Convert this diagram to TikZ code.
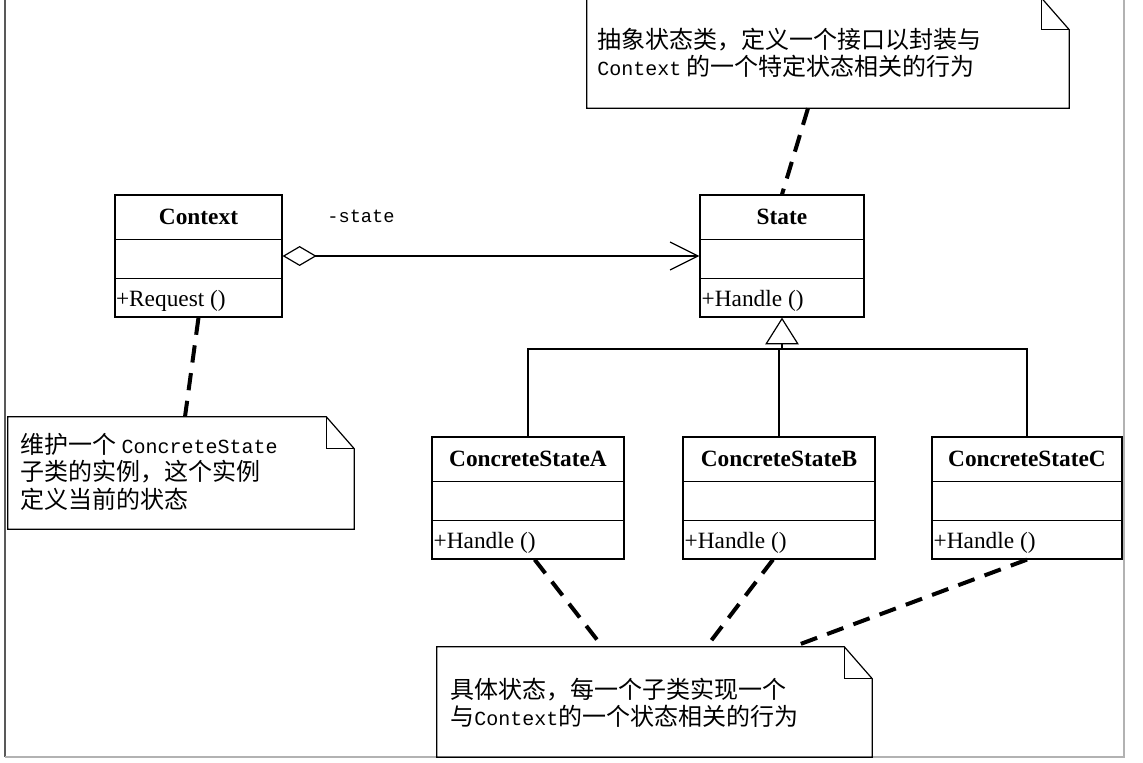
\documentclass[tikz,border=0pt]{standalone}
\usepackage{fontspec}
\setmainfont{Liberation Serif}
\newfontfamily\cjk{Noto Sans CJK SC}
\newfontfamily\mono{Liberation Mono}
\usetikzlibrary{arrows.meta,calc}
\newcommand{\lat}[1]{{\mono\fontsize{15pt}{20.5pt}\selectfont #1}}
% dog-eared outline round a note node
\newcommand{\notefold}[1]{%
  \draw[umlline] (#1.north west) -- ([xshift=-21pt]#1.north east)
    -- ([yshift=-24pt]#1.north east) -- (#1.south east) -- (#1.south west) -- cycle;
  \draw[umlline] ([xshift=-21pt]#1.north east) -- ([xshift=-21pt,yshift=-24pt]#1.north east)
    -- ([yshift=-24pt]#1.north east);
}
\tikzset{
  umlline/.style={line width=0.9pt},
  classbox/.style={draw, line width=0.9pt, minimum height=91.5pt, inner sep=0pt},
  classname/.style={font=\fontsize{17.5pt}{20pt}\selectfont\bfseries, inner sep=0pt},
  classop/.style={font=\fontsize{17.5pt}{20pt}\selectfont, inner sep=0pt, anchor=base west},
  notebox/.style={inner sep=0pt},
  notetext/.style={font=\cjk\fontsize{18pt}{20.5pt}\selectfont, align=left, inner sep=0pt, anchor=north west},
  notelink/.style={line width=3pt, dash pattern=on 13pt off 8pt},
}
\begin{document}
\begin{tikzpicture}[x=0.75pt, y=-0.75pt]
  \useasboundingbox (0,0) rectangle (1143,763);
  % frame
  \draw[gray!70!black, line width=0.9pt] (5,0) -- (5,757);
  \draw[gray!60, line width=0.9pt] (5,757) -- (1124,757) -- (1124,0);

  % classes
  \node[classbox, minimum width=125.25pt] (context) at (198.5,256) {};
  \draw[umlline] ([yshift=-33.75pt]context.north west) -- ([yshift=-33.75pt]context.north east);
  \draw[umlline] ([yshift=29.25pt]context.south west) -- ([yshift=29.25pt]context.south east);
  \node[classname] (context name) at ([yshift=-16.9pt]context.north) {Context};
  \node[classop] (context op) at ([xshift=1pt,yshift=8.6pt]context.south west) {+Request ()};

  \node[classbox, minimum width=123pt] (state) at (782,256) {};
  \draw[umlline] ([yshift=-33.75pt]state.north west) -- ([yshift=-33.75pt]state.north east);
  \draw[umlline] ([yshift=29.25pt]state.south west) -- ([yshift=29.25pt]state.south east);
  \node[classname] (state name) at ([yshift=-16.9pt]state.north) {State};
  \node[classop] (state op) at ([xshift=1.5pt,yshift=8.6pt]state.south west) {+Handle ()};

  \node[classbox, minimum width=144pt] (stateA) at (528,498) {};
  \draw[umlline] ([yshift=-33.75pt]stateA.north west) -- ([yshift=-33.75pt]stateA.north east);
  \draw[umlline] ([yshift=29.25pt]stateA.south west) -- ([yshift=29.25pt]stateA.south east);
  \node[classname] (stateA name) at ([yshift=-16.9pt]stateA.north) {ConcreteStateA};
  \node[classop] (stateA op) at ([xshift=1.5pt,yshift=8.6pt]stateA.south west) {+Handle ()};

  \node[classbox, minimum width=144pt] (stateB) at (779,498) {};
  \draw[umlline] ([yshift=-33.75pt]stateB.north west) -- ([yshift=-33.75pt]stateB.north east);
  \draw[umlline] ([yshift=29.25pt]stateB.south west) -- ([yshift=29.25pt]stateB.south east);
  \node[classname] (stateB name) at ([yshift=-16.9pt]stateB.north) {ConcreteStateB};
  \node[classop] (stateB op) at ([xshift=1.5pt,yshift=8.6pt]stateB.south west) {+Handle ()};

  \node[classbox, minimum width=142.5pt] (stateC) at (1027,498) {};
  \draw[umlline] ([yshift=-33.75pt]stateC.north west) -- ([yshift=-33.75pt]stateC.north east);
  \draw[umlline] ([yshift=29.25pt]stateC.south west) -- ([yshift=29.25pt]stateC.south east);
  \node[classname] (stateC name) at ([yshift=-16.9pt]stateC.north) {ConcreteStateC};
  \node[classop] (stateC op) at ([xshift=1.5pt,yshift=8.6pt]stateC.south west) {+Handle ()};

  % aggregation
  \draw[umlline, {Diamond[open, length=25.5pt, width=15pt]}-{Straight Barb[length=21pt, width=21pt]}]
    (context.east) -- (state.west);
  \node[font=\mono\fontsize{14pt}{16pt}\selectfont, inner sep=0pt] (role) at (361,216) {-state};

  % generalisation
  \coordinate (bar) at (780,349);
  \draw[umlline] (stateA.north) |- (bar) -| (stateC.north);
  \draw[umlline] (stateB.north) -- (stateB.north |- bar);
  \draw[umlline, -{Triangle[open, length=20pt, width=25pt]}] (state.south |- bar) -- (state.south);

  % notes
  \node[notebox, minimum width=361.5pt, minimum height=82.5pt] (topnote) at (828,53) {};
  \notefold{topnote}
  \node[notetext] (topnote text) at (597,28)
    {抽象状态类，定义一个接口以封装与\\\lat{Context} 的一个特定状态相关的行为};

  \node[notebox, minimum width=259.5pt, minimum height=84pt] (leftnote) at (181,473) {};
  \notefold{leftnote}
  \node[notetext] (leftnote text) at (20,433)
    {维护一个 \lat{ConcreteState}\\子类的实例，这个实例\\定义当前的状态};

  \node[notebox, minimum width=326.25pt, minimum height=82.5pt] (bottomnote) at (654.5,702) {};
  \notefold{bottomnote}
  \node[notetext] (bottomnote text) at (450,678)
    {具体状态，每一个子类实现一个\\与\lat{Context}的一个状态相关的行为};

  % note links
  \draw[notelink] ([xshift=-15pt]topnote.south) -- (state.north);
  \draw[notelink] (context.south) -- ([xshift=3pt]leftnote.north);
  \draw[notelink] ([xshift=5pt]stateA.south) -- ([xshift=-39pt]bottomnote.north);
  \draw[notelink] ([xshift=-4.5pt]stateB.south) -- ([xshift=39pt]bottomnote.north);
  \draw[notelink] (stateC.south) -- ([xshift=104pt]bottomnote.north);
\end{tikzpicture}
\end{document}
